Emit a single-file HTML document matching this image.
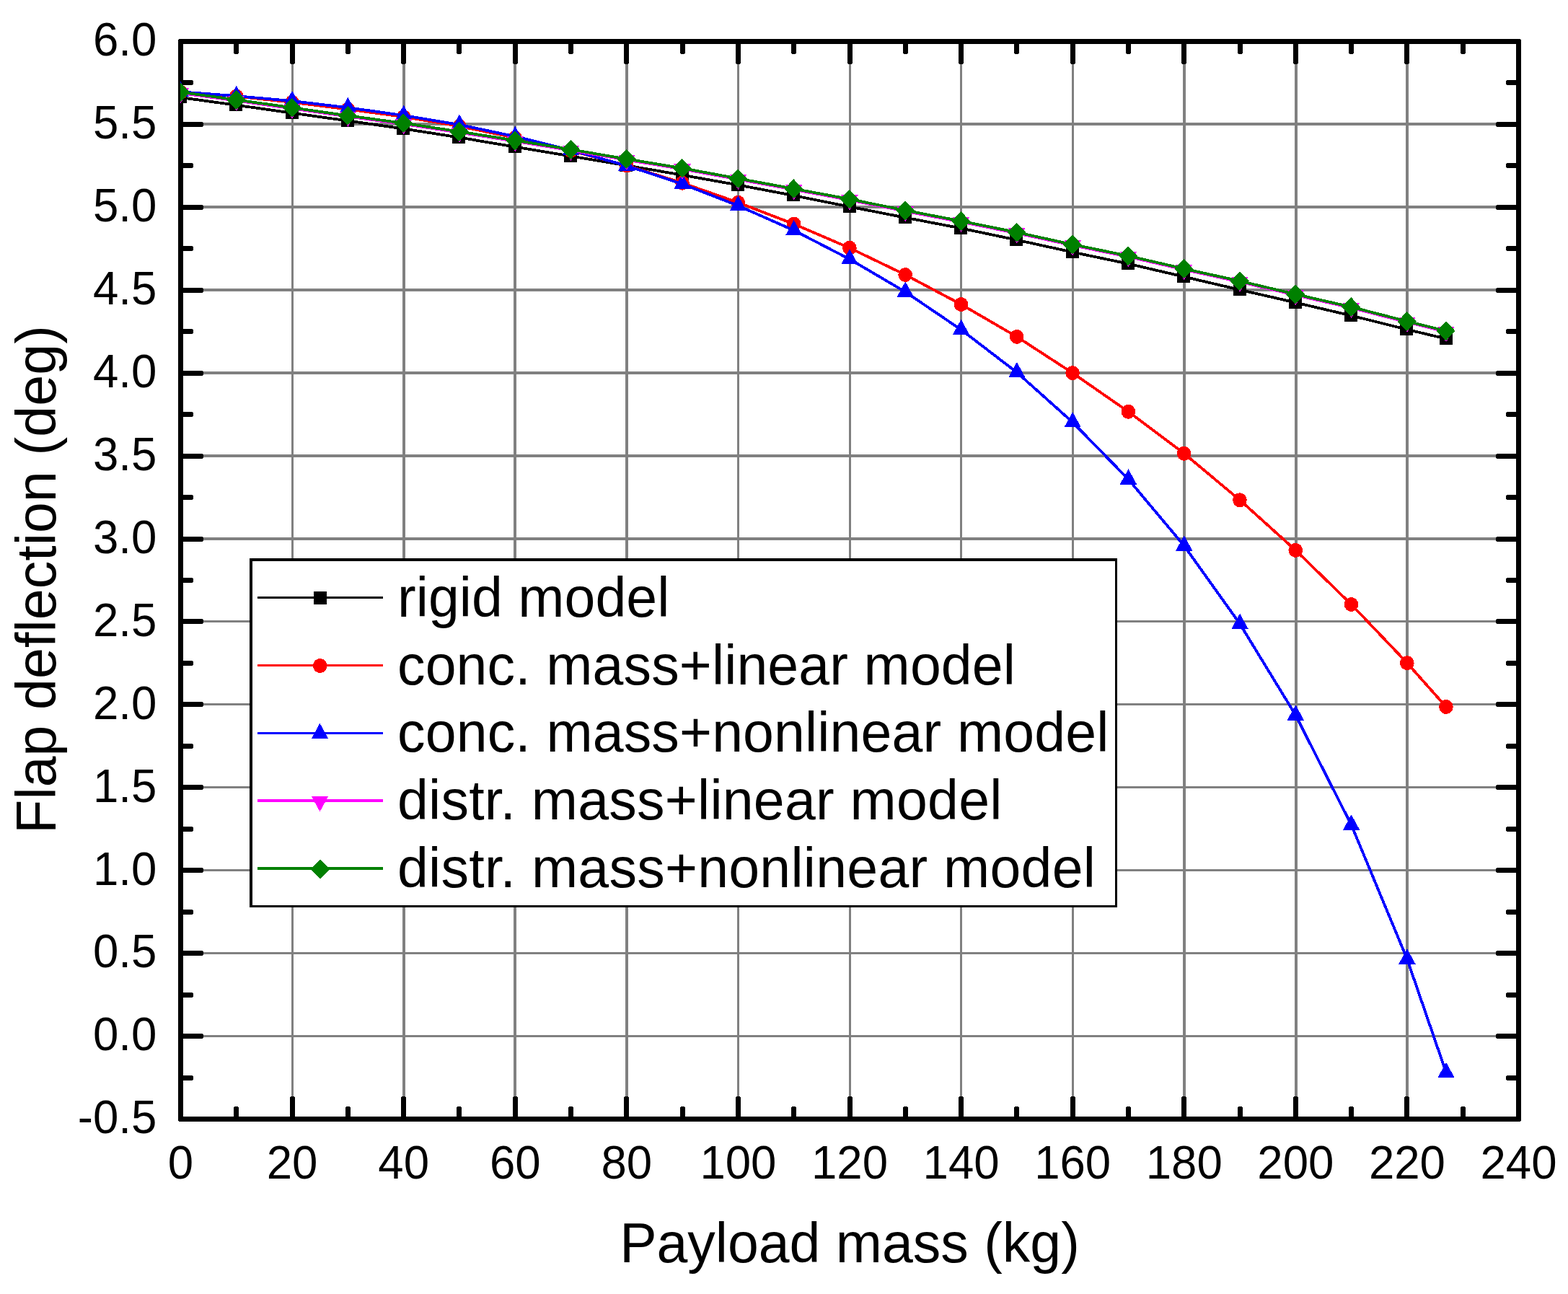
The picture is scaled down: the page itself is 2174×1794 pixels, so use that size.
<!DOCTYPE html>
<html lang="en"><head><meta charset="utf-8"><title>Flap deflection vs payload mass</title>
<style>html,body{margin:0;padding:0;background:#fff}body{width:2174px;height:1794px;overflow:hidden}svg{display:block}text{font-family:"Liberation Sans",Arial,Helvetica,sans-serif;fill:#000}.tk{font-size:63.6px}.ti{font-size:77px}.lg{font-size:77px}</style></head><body>
<svg width="2174" height="1794" viewBox="0 0 2174 1794">
<rect width="2174" height="1794" fill="#fff"/>
<g fill="#808080" shape-rendering="crispEdges">
<rect x="404" y="58" width="3" height="1493"/>
<rect x="558" y="58" width="4" height="1493"/>
<rect x="712" y="58" width="4" height="1493"/>
<rect x="867" y="58" width="4" height="1493"/>
<rect x="1022" y="58" width="3" height="1493"/>
<rect x="1177" y="58" width="3" height="1493"/>
<rect x="1331" y="58" width="3" height="1493"/>
<rect x="1486" y="58" width="3" height="1493"/>
<rect x="1640" y="58" width="4" height="1493"/>
<rect x="1795" y="58" width="4" height="1493"/>
<rect x="1949" y="58" width="4" height="1493"/>
<rect x="251" y="1435" width="1854" height="3"/>
<rect x="251" y="1320" width="1854" height="3"/>
<rect x="251" y="1205" width="1854" height="3"/>
<rect x="251" y="1090" width="1854" height="3"/>
<rect x="251" y="975" width="1854" height="3"/>
<rect x="251" y="860" width="1854" height="3"/>
<rect x="251" y="745" width="1854" height="4"/>
<rect x="251" y="630" width="1854" height="4"/>
<rect x="251" y="515" width="1854" height="4"/>
<rect x="251" y="400" width="1854" height="4"/>
<rect x="251" y="285" width="1854" height="4"/>
<rect x="251" y="170" width="1854" height="4"/>
</g>
<g fill="#000" shape-rendering="crispEdges">
<path fill-rule="evenodd" d="M248 54H2108V55H2109V1554H2108V1555H248V1554H247V55H248Z M254 61V1548H2102V61Z"/>
<path d="M324 58h7V74h-1v1h-5v-1h-1Z"/>
<path d="M324 1552h7V1535h-1v-1h-5v1h-1Z"/>
<path d="M402 58h7V88h-1v1h-5v-1h-1Z"/>
<path d="M402 1552h7V1521h-1v-1h-5v1h-1Z"/>
<path d="M479 58h7V74h-1v1h-5v-1h-1Z"/>
<path d="M479 1552h7V1535h-1v-1h-5v1h-1Z"/>
<path d="M556 58h7V88h-1v1h-5v-1h-1Z"/>
<path d="M556 1552h7V1521h-1v-1h-5v1h-1Z"/>
<path d="M633 58h7V74h-1v1h-5v-1h-1Z"/>
<path d="M633 1552h7V1535h-1v-1h-5v1h-1Z"/>
<path d="M711 58h7V88h-1v1h-5v-1h-1Z"/>
<path d="M711 1552h7V1521h-1v-1h-5v1h-1Z"/>
<path d="M788 58h7V74h-1v1h-5v-1h-1Z"/>
<path d="M788 1552h7V1535h-1v-1h-5v1h-1Z"/>
<path d="M865 58h7V88h-1v1h-5v-1h-1Z"/>
<path d="M865 1552h7V1521h-1v-1h-5v1h-1Z"/>
<path d="M943 58h7V74h-1v1h-5v-1h-1Z"/>
<path d="M943 1552h7V1535h-1v-1h-5v1h-1Z"/>
<path d="M1020 58h7V88h-1v1h-5v-1h-1Z"/>
<path d="M1020 1552h7V1521h-1v-1h-5v1h-1Z"/>
<path d="M1097 58h7V74h-1v1h-5v-1h-1Z"/>
<path d="M1097 1552h7V1535h-1v-1h-5v1h-1Z"/>
<path d="M1175 58h7V88h-1v1h-5v-1h-1Z"/>
<path d="M1175 1552h7V1521h-1v-1h-5v1h-1Z"/>
<path d="M1252 58h7V74h-1v1h-5v-1h-1Z"/>
<path d="M1252 1552h7V1535h-1v-1h-5v1h-1Z"/>
<path d="M1329 58h7V88h-1v1h-5v-1h-1Z"/>
<path d="M1329 1552h7V1521h-1v-1h-5v1h-1Z"/>
<path d="M1406 58h7V74h-1v1h-5v-1h-1Z"/>
<path d="M1406 1552h7V1535h-1v-1h-5v1h-1Z"/>
<path d="M1484 58h7V88h-1v1h-5v-1h-1Z"/>
<path d="M1484 1552h7V1521h-1v-1h-5v1h-1Z"/>
<path d="M1561 58h7V74h-1v1h-5v-1h-1Z"/>
<path d="M1561 1552h7V1535h-1v-1h-5v1h-1Z"/>
<path d="M1638 58h7V88h-1v1h-5v-1h-1Z"/>
<path d="M1638 1552h7V1521h-1v-1h-5v1h-1Z"/>
<path d="M1716 58h7V74h-1v1h-5v-1h-1Z"/>
<path d="M1716 1552h7V1535h-1v-1h-5v1h-1Z"/>
<path d="M1793 58h7V88h-1v1h-5v-1h-1Z"/>
<path d="M1793 1552h7V1521h-1v-1h-5v1h-1Z"/>
<path d="M1870 58h7V74h-1v1h-5v-1h-1Z"/>
<path d="M1870 1552h7V1535h-1v-1h-5v1h-1Z"/>
<path d="M1947 58h7V88h-1v1h-5v-1h-1Z"/>
<path d="M1947 1552h7V1521h-1v-1h-5v1h-1Z"/>
<path d="M2025 58h7V74h-1v1h-5v-1h-1Z"/>
<path d="M2025 1552h7V1535h-1v-1h-5v1h-1Z"/>
<path d="M250 1491v7H267v-1h1v-5h-1v-1Z"/>
<path d="M2106 1491v7H2089v-1h-1v-5h1v-1Z"/>
<path d="M250 1433v7H281v-1h1v-5h-1v-1Z"/>
<path d="M2106 1433v7H2075v-1h-1v-5h1v-1Z"/>
<path d="M250 1376v7H267v-1h1v-5h-1v-1Z"/>
<path d="M2106 1376v7H2089v-1h-1v-5h1v-1Z"/>
<path d="M250 1318v7H281v-1h1v-5h-1v-1Z"/>
<path d="M2106 1318v7H2075v-1h-1v-5h1v-1Z"/>
<path d="M250 1261v7H267v-1h1v-5h-1v-1Z"/>
<path d="M2106 1261v7H2089v-1h-1v-5h1v-1Z"/>
<path d="M250 1203v7H281v-1h1v-5h-1v-1Z"/>
<path d="M2106 1203v7H2075v-1h-1v-5h1v-1Z"/>
<path d="M250 1146v7H267v-1h1v-5h-1v-1Z"/>
<path d="M2106 1146v7H2089v-1h-1v-5h1v-1Z"/>
<path d="M250 1088v7H281v-1h1v-5h-1v-1Z"/>
<path d="M2106 1088v7H2075v-1h-1v-5h1v-1Z"/>
<path d="M250 1031v7H267v-1h1v-5h-1v-1Z"/>
<path d="M2106 1031v7H2089v-1h-1v-5h1v-1Z"/>
<path d="M250 973v7H281v-1h1v-5h-1v-1Z"/>
<path d="M2106 973v7H2075v-1h-1v-5h1v-1Z"/>
<path d="M250 916v7H267v-1h1v-5h-1v-1Z"/>
<path d="M2106 916v7H2089v-1h-1v-5h1v-1Z"/>
<path d="M250 858v7H281v-1h1v-5h-1v-1Z"/>
<path d="M2106 858v7H2075v-1h-1v-5h1v-1Z"/>
<path d="M250 801v7H267v-1h1v-5h-1v-1Z"/>
<path d="M2106 801v7H2089v-1h-1v-5h1v-1Z"/>
<path d="M250 744v7H281v-1h1v-5h-1v-1Z"/>
<path d="M2106 744v7H2075v-1h-1v-5h1v-1Z"/>
<path d="M250 686v7H267v-1h1v-5h-1v-1Z"/>
<path d="M2106 686v7H2089v-1h-1v-5h1v-1Z"/>
<path d="M250 629v7H281v-1h1v-5h-1v-1Z"/>
<path d="M2106 629v7H2075v-1h-1v-5h1v-1Z"/>
<path d="M250 571v7H267v-1h1v-5h-1v-1Z"/>
<path d="M2106 571v7H2089v-1h-1v-5h1v-1Z"/>
<path d="M250 514v7H281v-1h1v-5h-1v-1Z"/>
<path d="M2106 514v7H2075v-1h-1v-5h1v-1Z"/>
<path d="M250 456v7H267v-1h1v-5h-1v-1Z"/>
<path d="M2106 456v7H2089v-1h-1v-5h1v-1Z"/>
<path d="M250 399v7H281v-1h1v-5h-1v-1Z"/>
<path d="M2106 399v7H2075v-1h-1v-5h1v-1Z"/>
<path d="M250 341v7H267v-1h1v-5h-1v-1Z"/>
<path d="M2106 341v7H2089v-1h-1v-5h1v-1Z"/>
<path d="M250 284v7H281v-1h1v-5h-1v-1Z"/>
<path d="M2106 284v7H2075v-1h-1v-5h1v-1Z"/>
<path d="M250 226v7H267v-1h1v-5h-1v-1Z"/>
<path d="M2106 226v7H2089v-1h-1v-5h1v-1Z"/>
<path d="M250 169v7H281v-1h1v-5h-1v-1Z"/>
<path d="M2106 169v7H2075v-1h-1v-5h1v-1Z"/>
<path d="M250 111v7H267v-1h1v-5h-1v-1Z"/>
<path d="M2106 111v7H2089v-1h-1v-5h1v-1Z"/>
</g>
<defs><clipPath id="pc"><rect x="250" y="54" width="1859" height="1501"/></clipPath></defs>
<g clip-path="url(#pc)" shape-rendering="crispEdges">
<polyline points="250.5,135.1 327.79,145.8 405.08,156.7 482.38,167.5 559.67,178.5 636.96,190.6 714.25,203.7 791.54,216.5 868.83,229.4 946.12,242.7 1023.42,256.5 1100.71,271.1 1178,286.6 1255.29,301.7 1332.58,316.5 1409.88,332.7 1487.17,349.6 1564.46,365.7 1641.75,383.7 1719.04,401.8 1796.33,419.5 1873.62,437.6 1950.92,456.8 2005.02,469.7" fill="none" stroke="#000000" stroke-width="3.8" stroke-linejoin="round"/>
<rect x="241" y="125" width="18" height="18" fill="#000000"/>
<rect x="318" y="136" width="18" height="18" fill="#000000"/>
<rect x="396" y="147" width="18" height="18" fill="#000000"/>
<rect x="473" y="158" width="18" height="18" fill="#000000"/>
<rect x="550" y="169" width="18" height="18" fill="#000000"/>
<rect x="627" y="181" width="18" height="18" fill="#000000"/>
<rect x="705" y="194" width="18" height="18" fill="#000000"/>
<rect x="782" y="207" width="18" height="18" fill="#000000"/>
<rect x="859" y="220" width="18" height="18" fill="#000000"/>
<rect x="937" y="233" width="18" height="18" fill="#000000"/>
<rect x="1014" y="247" width="18" height="18" fill="#000000"/>
<rect x="1091" y="261" width="18" height="18" fill="#000000"/>
<rect x="1169" y="277" width="18" height="18" fill="#000000"/>
<rect x="1246" y="292" width="18" height="18" fill="#000000"/>
<rect x="1323" y="307" width="18" height="18" fill="#000000"/>
<rect x="1400" y="323" width="18" height="18" fill="#000000"/>
<rect x="1478" y="340" width="18" height="18" fill="#000000"/>
<rect x="1555" y="356" width="18" height="18" fill="#000000"/>
<rect x="1632" y="374" width="18" height="18" fill="#000000"/>
<rect x="1710" y="392" width="18" height="18" fill="#000000"/>
<rect x="1787" y="410" width="18" height="18" fill="#000000"/>
<rect x="1864" y="428" width="18" height="18" fill="#000000"/>
<rect x="1941" y="447" width="18" height="18" fill="#000000"/>
<rect x="1996" y="460" width="18" height="18" fill="#000000"/>
<polyline points="250.5,127.8 327.79,133.6 405.08,141.8 482.38,151.5 559.67,162 636.96,175 714.25,191 791.54,209 868.83,229.3 946.12,253.7 1023.42,280.8 1100.71,310.6 1178,343.8 1255.29,381 1332.58,422 1409.88,466.9 1487.17,517.1 1564.46,570.8 1641.75,628.8 1719.04,693.3 1796.33,762.9 1873.62,838 1950.92,919.1 2005.02,980" fill="none" stroke="#ff0000" stroke-width="3.8" stroke-linejoin="round"/>
<ellipse cx="250.4" cy="127.8" rx="9.8" ry="10" fill="#ff0000"/>
<ellipse cx="327.69" cy="133.6" rx="9.8" ry="10" fill="#ff0000"/>
<ellipse cx="404.98" cy="141.8" rx="9.8" ry="10" fill="#ff0000"/>
<ellipse cx="482.27" cy="151.5" rx="9.8" ry="10" fill="#ff0000"/>
<ellipse cx="559.57" cy="162" rx="9.8" ry="10" fill="#ff0000"/>
<ellipse cx="636.86" cy="175" rx="9.8" ry="10" fill="#ff0000"/>
<ellipse cx="714.15" cy="191" rx="9.8" ry="10" fill="#ff0000"/>
<ellipse cx="791.44" cy="209" rx="9.8" ry="10" fill="#ff0000"/>
<ellipse cx="868.73" cy="229.3" rx="9.8" ry="10" fill="#ff0000"/>
<ellipse cx="946.02" cy="253.7" rx="9.8" ry="10" fill="#ff0000"/>
<ellipse cx="1023.32" cy="280.8" rx="9.8" ry="10" fill="#ff0000"/>
<ellipse cx="1100.61" cy="310.6" rx="9.8" ry="10" fill="#ff0000"/>
<ellipse cx="1177.9" cy="343.8" rx="9.8" ry="10" fill="#ff0000"/>
<ellipse cx="1255.19" cy="381" rx="9.8" ry="10" fill="#ff0000"/>
<ellipse cx="1332.48" cy="422" rx="9.8" ry="10" fill="#ff0000"/>
<ellipse cx="1409.78" cy="466.9" rx="9.8" ry="10" fill="#ff0000"/>
<ellipse cx="1487.07" cy="517.1" rx="9.8" ry="10" fill="#ff0000"/>
<ellipse cx="1564.36" cy="570.8" rx="9.8" ry="10" fill="#ff0000"/>
<ellipse cx="1641.65" cy="628.8" rx="9.8" ry="10" fill="#ff0000"/>
<ellipse cx="1718.94" cy="693.3" rx="9.8" ry="10" fill="#ff0000"/>
<ellipse cx="1796.23" cy="762.9" rx="9.8" ry="10" fill="#ff0000"/>
<ellipse cx="1873.53" cy="838" rx="9.8" ry="10" fill="#ff0000"/>
<ellipse cx="1950.82" cy="919.1" rx="9.8" ry="10" fill="#ff0000"/>
<ellipse cx="2004.92" cy="980" rx="9.8" ry="10" fill="#ff0000"/>
<polyline points="250.5,127.3 327.79,133.1 405.08,140.05 482.38,149.2 559.67,160 636.96,172.9 714.25,189.2 791.54,208.2 868.83,229.7 946.12,255.1 1023.42,285.2 1100.71,319.4 1178,359.3 1255.29,404.7 1332.58,457.1 1409.88,516.3 1487.17,585.4 1564.46,664.5 1641.75,756.6 1719.04,864.9 1796.33,991.5 1873.62,1143.7 1950.92,1329.6 2005.02,1487" fill="none" stroke="#0000ff" stroke-width="3.8" stroke-linejoin="round"/>
<polygon points="250.5,113 262.2,134.3 238.8,134.3" fill="#0000ff"/>
<polygon points="327.79,118.8 339.49,140.1 316.09,140.1" fill="#0000ff"/>
<polygon points="405.08,125.75 416.78,147.05 393.38,147.05" fill="#0000ff"/>
<polygon points="482.38,134.9 494.07,156.2 470.68,156.2" fill="#0000ff"/>
<polygon points="559.67,145.7 571.37,167 547.97,167" fill="#0000ff"/>
<polygon points="636.96,158.6 648.66,179.9 625.26,179.9" fill="#0000ff"/>
<polygon points="714.25,174.9 725.95,196.2 702.55,196.2" fill="#0000ff"/>
<polygon points="791.54,193.9 803.24,215.2 779.84,215.2" fill="#0000ff"/>
<polygon points="868.83,215.4 880.53,236.7 857.13,236.7" fill="#0000ff"/>
<polygon points="946.12,240.8 957.83,262.1 934.42,262.1" fill="#0000ff"/>
<polygon points="1023.42,270.9 1035.12,292.2 1011.72,292.2" fill="#0000ff"/>
<polygon points="1100.71,305.1 1112.41,326.4 1089.01,326.4" fill="#0000ff"/>
<polygon points="1178,345 1189.7,366.3 1166.3,366.3" fill="#0000ff"/>
<polygon points="1255.29,390.4 1266.99,411.7 1243.59,411.7" fill="#0000ff"/>
<polygon points="1332.58,442.8 1344.28,464.1 1320.88,464.1" fill="#0000ff"/>
<polygon points="1409.88,502 1421.58,523.3 1398.17,523.3" fill="#0000ff"/>
<polygon points="1487.17,571.1 1498.87,592.4 1475.47,592.4" fill="#0000ff"/>
<polygon points="1564.46,650.2 1576.16,671.5 1552.76,671.5" fill="#0000ff"/>
<polygon points="1641.75,742.3 1653.45,763.6 1630.05,763.6" fill="#0000ff"/>
<polygon points="1719.04,850.6 1730.74,871.9 1707.34,871.9" fill="#0000ff"/>
<polygon points="1796.33,977.2 1808.03,998.5 1784.63,998.5" fill="#0000ff"/>
<polygon points="1873.62,1129.4 1885.33,1150.7 1861.92,1150.7" fill="#0000ff"/>
<polygon points="1950.92,1315.3 1962.62,1336.6 1939.22,1336.6" fill="#0000ff"/>
<polygon points="2005.02,1472.7 2016.72,1494 1993.32,1494" fill="#0000ff"/>
<polyline points="250.5,129 327.79,139.6 405.08,150.5 482.38,161.5 559.67,172 636.96,183.7 714.25,195.8 791.54,208.5 868.83,221.7 946.12,234.4 1023.42,248.7 1100.71,262.9 1178,277.3 1255.29,292.9 1332.58,307.7 1409.88,323.3 1487.17,340.2 1564.46,355.95 1641.75,373.8 1719.04,390.8 1796.33,409.2 1873.62,426.8 1950.92,446.7 2005.02,460" fill="none" stroke="#ff00ff" stroke-width="3.8" stroke-linejoin="round"/>
<polygon points="250.5,143.3 262.2,122 238.8,122" fill="#ff00ff"/>
<polygon points="327.79,153.9 339.49,132.6 316.09,132.6" fill="#ff00ff"/>
<polygon points="405.08,164.8 416.78,143.5 393.38,143.5" fill="#ff00ff"/>
<polygon points="482.38,175.8 494.07,154.5 470.68,154.5" fill="#ff00ff"/>
<polygon points="559.67,186.3 571.37,165 547.97,165" fill="#ff00ff"/>
<polygon points="636.96,198 648.66,176.7 625.26,176.7" fill="#ff00ff"/>
<polygon points="714.25,210.1 725.95,188.8 702.55,188.8" fill="#ff00ff"/>
<polygon points="791.54,222.8 803.24,201.5 779.84,201.5" fill="#ff00ff"/>
<polygon points="868.83,236 880.53,214.7 857.13,214.7" fill="#ff00ff"/>
<polygon points="946.12,248.7 957.83,227.4 934.42,227.4" fill="#ff00ff"/>
<polygon points="1023.42,263 1035.12,241.7 1011.72,241.7" fill="#ff00ff"/>
<polygon points="1100.71,277.2 1112.41,255.9 1089.01,255.9" fill="#ff00ff"/>
<polygon points="1178,291.6 1189.7,270.3 1166.3,270.3" fill="#ff00ff"/>
<polygon points="1255.29,307.2 1266.99,285.9 1243.59,285.9" fill="#ff00ff"/>
<polygon points="1332.58,322 1344.28,300.7 1320.88,300.7" fill="#ff00ff"/>
<polygon points="1409.88,337.6 1421.58,316.3 1398.17,316.3" fill="#ff00ff"/>
<polygon points="1487.17,354.5 1498.87,333.2 1475.47,333.2" fill="#ff00ff"/>
<polygon points="1564.46,370.25 1576.16,348.95 1552.76,348.95" fill="#ff00ff"/>
<polygon points="1641.75,388.1 1653.45,366.8 1630.05,366.8" fill="#ff00ff"/>
<polygon points="1719.04,405.1 1730.74,383.8 1707.34,383.8" fill="#ff00ff"/>
<polygon points="1796.33,423.5 1808.03,402.2 1784.63,402.2" fill="#ff00ff"/>
<polygon points="1873.62,441.1 1885.33,419.8 1861.92,419.8" fill="#ff00ff"/>
<polygon points="1950.92,461 1962.62,439.7 1939.22,439.7" fill="#ff00ff"/>
<polygon points="2005.02,474.3 2016.72,453 1993.32,453" fill="#ff00ff"/>
<polyline points="250.5,127.8 327.79,138.4 405.08,149.3 482.38,160.3 559.67,170.8 636.96,182.5 714.25,194.6 791.54,207.3 868.83,220.5 946.12,233.2 1023.42,247.5 1100.71,261.7 1178,276.1 1255.29,291.7 1332.58,306.5 1409.88,322.1 1487.17,339 1564.46,354.75 1641.75,372.6 1719.04,389.6 1796.33,408 1873.62,425.6 1950.92,445.5 2005.02,458.8" fill="none" stroke="#008000" stroke-width="3.8" stroke-linejoin="round"/>
<polygon points="250.25,114.5 263.35,127.9 250.25,141.3 237.15,127.9" fill="#008000"/>
<polygon points="327.54,125.1 340.64,138.5 327.54,151.9 314.44,138.5" fill="#008000"/>
<polygon points="404.83,136 417.93,149.4 404.83,162.8 391.73,149.4" fill="#008000"/>
<polygon points="482.12,147 495.23,160.4 482.12,173.8 469.02,160.4" fill="#008000"/>
<polygon points="559.42,157.5 572.52,170.9 559.42,184.3 546.32,170.9" fill="#008000"/>
<polygon points="636.71,169.2 649.81,182.6 636.71,196 623.61,182.6" fill="#008000"/>
<polygon points="714,181.3 727.1,194.7 714,208.1 700.9,194.7" fill="#008000"/>
<polygon points="791.29,194 804.39,207.4 791.29,220.8 778.19,207.4" fill="#008000"/>
<polygon points="868.58,207.2 881.68,220.6 868.58,234 855.48,220.6" fill="#008000"/>
<polygon points="945.88,219.9 958.98,233.3 945.88,246.7 932.77,233.3" fill="#008000"/>
<polygon points="1023.17,234.2 1036.27,247.6 1023.17,261 1010.07,247.6" fill="#008000"/>
<polygon points="1100.46,248.4 1113.56,261.8 1100.46,275.2 1087.36,261.8" fill="#008000"/>
<polygon points="1177.75,262.8 1190.85,276.2 1177.75,289.6 1164.65,276.2" fill="#008000"/>
<polygon points="1255.04,278.4 1268.14,291.8 1255.04,305.2 1241.94,291.8" fill="#008000"/>
<polygon points="1332.33,293.2 1345.43,306.6 1332.33,320 1319.23,306.6" fill="#008000"/>
<polygon points="1409.62,308.8 1422.72,322.2 1409.62,335.6 1396.53,322.2" fill="#008000"/>
<polygon points="1486.92,325.7 1500.02,339.1 1486.92,352.5 1473.82,339.1" fill="#008000"/>
<polygon points="1564.21,341.45 1577.31,354.85 1564.21,368.25 1551.11,354.85" fill="#008000"/>
<polygon points="1641.5,359.3 1654.6,372.7 1641.5,386.1 1628.4,372.7" fill="#008000"/>
<polygon points="1718.79,376.3 1731.89,389.7 1718.79,403.1 1705.69,389.7" fill="#008000"/>
<polygon points="1796.08,394.7 1809.18,408.1 1796.08,421.5 1782.98,408.1" fill="#008000"/>
<polygon points="1873.38,412.3 1886.47,425.7 1873.38,439.1 1860.28,425.7" fill="#008000"/>
<polygon points="1950.67,432.2 1963.77,445.6 1950.67,459 1937.57,445.6" fill="#008000"/>
<polygon points="2004.77,445.5 2017.87,458.9 2004.77,472.3 1991.67,458.9" fill="#008000"/>
</g>
<g shape-rendering="crispEdges">
<rect x="346" y="774" width="1203" height="484" fill="#000"/>
<rect x="350" y="778" width="1196" height="477" fill="#fff"/>
<rect x="357" y="827" width="174" height="3" fill="#000000"/>
<rect x="435" y="820" width="18" height="18" fill="#000000"/>
<rect x="357" y="921" width="174" height="3" fill="#ff0000"/>
<ellipse cx="443.75" cy="923" rx="9.8" ry="10" fill="#ff0000"/>
<rect x="357" y="1015" width="174" height="3" fill="#0000ff"/>
<polygon points="443.5,1002.7 455.2,1024 431.8,1024" fill="#0000ff"/>
<rect x="357" y="1108" width="174" height="4" fill="#ff00ff"/>
<polygon points="443.5,1125.3 455.2,1104 431.8,1104" fill="#ff00ff"/>
<rect x="357" y="1202" width="174" height="4" fill="#008000"/>
<polygon points="444,1191.6 457.1,1205 444,1218.4 430.9,1205" fill="#008000"/>
</g>
<text class="lg" x="551" y="855" letter-spacing="0.07">rigid model</text>
<text class="lg" x="551" y="948.7" letter-spacing="0.14">conc. mass+linear model</text>
<text class="lg" x="551" y="1042.4" letter-spacing="0.16">conc. mass+nonlinear model</text>
<text class="lg" x="551" y="1136.1" letter-spacing="0.26">distr. mass+linear model</text>
<text class="lg" x="551" y="1229.9" letter-spacing="0.27">distr. mass+nonlinear model</text>
<text class="tk" text-anchor="middle" transform="translate(250.5 1634.3) scale(1 1.025)">0</text>
<text class="tk" text-anchor="middle" transform="translate(405.08 1634.3) scale(1 1.025)">20</text>
<text class="tk" text-anchor="middle" transform="translate(559.67 1634.3) scale(1 1.025)">40</text>
<text class="tk" text-anchor="middle" transform="translate(714.25 1634.3) scale(1 1.025)">60</text>
<text class="tk" text-anchor="middle" transform="translate(868.83 1634.3) scale(1 1.025)">80</text>
<text class="tk" text-anchor="middle" transform="translate(1023.42 1634.3) scale(1 1.025)">100</text>
<text class="tk" text-anchor="middle" transform="translate(1178 1634.3) scale(1 1.025)">120</text>
<text class="tk" text-anchor="middle" transform="translate(1332.58 1634.3) scale(1 1.025)">140</text>
<text class="tk" text-anchor="middle" transform="translate(1487.17 1634.3) scale(1 1.025)">160</text>
<text class="tk" text-anchor="middle" transform="translate(1641.75 1634.3) scale(1 1.025)">180</text>
<text class="tk" text-anchor="middle" transform="translate(1796.33 1634.3) scale(1 1.025)">200</text>
<text class="tk" text-anchor="middle" transform="translate(1950.92 1634.3) scale(1 1.025)">220</text>
<text class="tk" text-anchor="middle" transform="translate(2105.5 1634.3) scale(1 1.025)">240</text>
<text class="tk" text-anchor="end" transform="translate(217.4 1571.3) scale(1 1.025)">-0.5</text>
<text class="tk" text-anchor="end" transform="translate(217.4 1456.38) scale(1 1.025)">0.0</text>
<text class="tk" text-anchor="end" transform="translate(217.4 1341.45) scale(1 1.025)">0.5</text>
<text class="tk" text-anchor="end" transform="translate(217.4 1226.53) scale(1 1.025)">1.0</text>
<text class="tk" text-anchor="end" transform="translate(217.4 1111.61) scale(1 1.025)">1.5</text>
<text class="tk" text-anchor="end" transform="translate(217.4 996.68) scale(1 1.025)">2.0</text>
<text class="tk" text-anchor="end" transform="translate(217.4 881.76) scale(1 1.025)">2.5</text>
<text class="tk" text-anchor="end" transform="translate(217.4 766.84) scale(1 1.025)">3.0</text>
<text class="tk" text-anchor="end" transform="translate(217.4 651.92) scale(1 1.025)">3.5</text>
<text class="tk" text-anchor="end" transform="translate(217.4 536.99) scale(1 1.025)">4.0</text>
<text class="tk" text-anchor="end" transform="translate(217.4 422.07) scale(1 1.025)">4.5</text>
<text class="tk" text-anchor="end" transform="translate(217.4 307.15) scale(1 1.025)">5.0</text>
<text class="tk" text-anchor="end" transform="translate(217.4 192.22) scale(1 1.025)">5.5</text>
<text class="tk" text-anchor="end" transform="translate(217.4 77.3) scale(1 1.025)">6.0</text>
<text class="ti" text-anchor="middle" x="1178" y="1750">Payload mass (kg)</text>
<text class="ti" text-anchor="middle" letter-spacing="0.13" transform="translate(77.1 803.4) rotate(-90)">Flap deflection (deg)</text>
</svg></body></html>
